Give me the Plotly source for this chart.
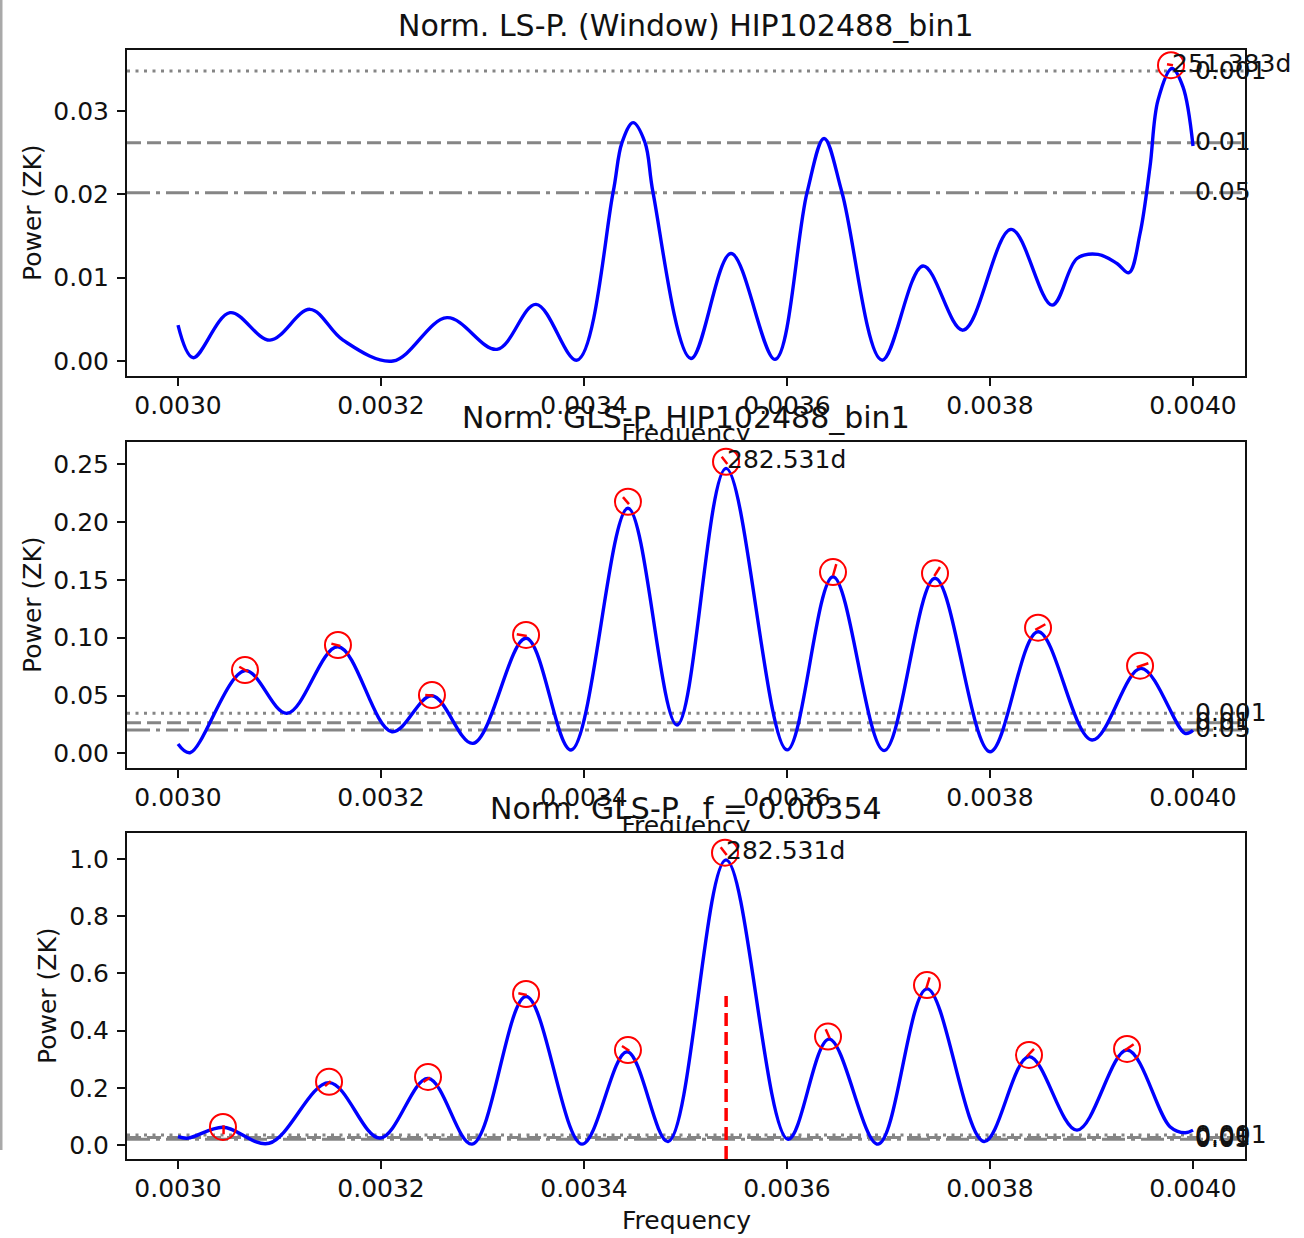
import plotly.graph_objects as go

# ---------------- figure geometry ----------------
W, H = 1304, 1238
ML, MR, MT, MB = 127, 59, 50, 79
PW, PH = W - ML - MR, H - MT - MB


def py(p):
    return (H - MB - p) / PH


def pxp(p):
    return (p - ML) / PW


FONT = "DejaVu Sans"
FS_TICK = 25
FS_TITLE = 30

# ---------------- data ----------------
freq_ticks = [0.0030, 0.0032, 0.0034, 0.0036, 0.0038, 0.0040]
freq_tick_text = ["0.0030", "0.0032", "0.0034", "0.0036", "0.0038", "0.0040"]

# Panel 1: window periodogram
win_freq = [0.0030000, 0.0030148, 0.0030512, 0.0030906, 0.0031300, 0.0031626, 0.0032118,
            0.0032650, 0.0033143, 0.0033527, 0.0033931, 0.0034286, 0.0034374, 0.0034483,
            0.0034601, 0.0034680, 0.0035054, 0.0035448, 0.0035882, 0.0036197, 0.0036365,
            0.0036542, 0.0036936, 0.0037340, 0.0037734, 0.0038207, 0.0038611, 0.0038857,
            0.0039064, 0.0039251, 0.0039369, 0.0039478, 0.0039576, 0.0039655, 0.0039793,
            0.0039901, 0.0040000]
win_power = [0.0043, 0.0004, 0.0058, 0.0025, 0.0062, 0.0025, 0.0000,
             0.0052, 0.0014, 0.0068, 0.0001, 0.0202, 0.0262, 0.0286,
             0.0262, 0.0202, 0.0003, 0.0129, 0.0002, 0.0202, 0.0267,
             0.0202, 0.0001, 0.0114, 0.0037, 0.0158, 0.0067, 0.0123,
             0.0128, 0.0117, 0.0106, 0.0153, 0.0233, 0.0313, 0.0351,
             0.0329, 0.0258]
win_peak_freq = [0.0039783]
win_peak_power = [0.0355]
win_peak_label = "251.383d"
win_levels = [0.0348, 0.0262, 0.0202]

# Panel 2: GLS periodogram
gls_freq = [0.0030000, 0.0030118, 0.0030660, 0.0031074, 0.0031576, 0.0032108, 0.0032502,
            0.0032906, 0.0033429, 0.0033872, 0.0034433, 0.0034916, 0.0035399, 0.0036000,
            0.0036453, 0.0036956, 0.0037458, 0.0038000, 0.0038473, 0.0039005, 0.0039488,
            0.0039921, 0.0040000]
gls_power = [0.008, 0.0005, 0.0715, 0.0346, 0.0922, 0.0187, 0.0498,
             0.0086, 0.0995, 0.0029, 0.2120, 0.0245, 0.2465, 0.0030,
             0.1528, 0.0023, 0.1514, 0.0014, 0.1052, 0.0115, 0.0735,
             0.0173, 0.0200]
gls_peak_freq = [0.0030660, 0.0031576, 0.0032502, 0.0033429, 0.0034433, 0.0035399,
                 0.0036453, 0.0037458, 0.0038473, 0.0039478]
gls_peak_power = [0.0720, 0.0937, 0.0504, 0.1024, 0.2176, 0.2522,
                  0.1568, 0.1557, 0.1087, 0.0758]
gls_peak_label = "282.531d"
gls_levels = [0.0346, 0.0265, 0.0202]

# Panel 3: GLS periodogram of the f = 0.00354 signal
sig_freq = [0.0030000, 0.0030099, 0.0030443, 0.0030897, 0.0031488, 0.0031990, 0.0032463,
            0.0032897, 0.0033429, 0.0033980, 0.0034424, 0.0034828, 0.0035399, 0.0036010,
            0.0036414, 0.0036897, 0.0037379, 0.0037941, 0.0038384, 0.0038857, 0.0039350,
            0.0039773, 0.0039921, 0.0040000]
sig_power = [0.029, 0.024, 0.062, 0.006, 0.218, 0.024, 0.233,
             0.003, 0.519, 0.003, 0.326, 0.012, 0.997, 0.020,
             0.370, 0.003, 0.546, 0.012, 0.309, 0.052, 0.332,
             0.064, 0.043, 0.052]
sig_peak_freq = [0.0030443, 0.0031488, 0.0032463, 0.0033429, 0.0034433, 0.0035389,
                 0.0036404, 0.0037379, 0.0038384, 0.0039350]
sig_peak_power = [0.063, 0.221, 0.238, 0.528, 0.332, 1.022,
                  0.379, 0.559, 0.315, 0.336]
sig_peak_label = "282.531d"
sig_levels = [0.0346, 0.0265, 0.0202]
sig_test_freq = 0.00354

level_labels = ["0.001", "0.01", "0.05"]
titles = ["Norm. LS-P. (Window) HIP102488_bin1",
          "Norm. GLS-P. HIP102488_bin1",
          "Norm. GLS-P., f = 0.00354"]

# short red marks inside the peak circles (pixel offsets: dx0, dy0, dx1, dy1; screen y down)
win_marks = [(-4, -1, 2, 0)]
gls_marks = [(-5.7, -3.3, 3.3, 1.7), (-6.6, -1.4, 2.4, 1.0), (-6.7, 0, 1.6, 0.7),
             (-9.3, -0.7, 0.7, 1.0), (-5, -4.7, 1, 2.3), (-4.3, -5, 1.3, 2.3),
             (0, 3.7, 3.3, -8), (-0.7, 2.7, 5, -6.3), (-2.7, 2.3, 7.3, -3.4),
             (-3.3, 1.6, 8.3, -2.4)]
sig_marks = [(0.6, -1.7, 0.6, 7.3), (-4, 4.3, 1.7, -0.7), (-4.6, 5, 2, 0.6),
             (-7.7, -0.7, 0.7, 1), (-6, -4, 1.3, 0.7), (-4.3, -5.4, 1.7, 2.3),
             (-2.3, -7.4, 1.7, 1.6), (-0.7, 3.3, 2.6, -7.7), (-2.3, 1.7, 5, -6),
             (-2.4, 1.7, 6.6, -4.7)]

# ---------------- layout helpers ----------------
panel_px = [(50, 376), (442, 768), (833, 1159)]  # (top, bottom) in screen px
y_ranges = [[-0.0018, 0.03732], [-0.0127, 0.2693], [-0.049, 1.0909]]
y_ticks = [[0, 0.01, 0.02, 0.03], [0, 0.05, 0.10, 0.15, 0.20, 0.25], [0, 0.2, 0.4, 0.6, 0.8, 1.0]]
y_fmt = [".2f", ".2f", ".1f"]
x_range = [0.00294975, 0.0040512]
ylabel_x = [32, 32, 47]

fig = go.Figure()

panels = [
    (win_freq, win_power, win_peak_freq, win_peak_power, win_peak_label, win_levels, win_marks),
    (gls_freq, gls_power, gls_peak_freq, gls_peak_power, gls_peak_label, gls_levels, gls_marks),
    (sig_freq, sig_power, sig_peak_freq, sig_peak_power, sig_peak_label, sig_levels, sig_marks),
]

shapes = []
annotations = []
level_dash = ["3px,5.5px", "14px,6px", "23px,6px,4px,6px"]

for i, (fx, pw, pkf, pkp, pklab, levels, marks) in enumerate(panels):
    n = i + 1
    xa = "x" if n == 1 else f"x{n}"
    ya = "y" if n == 1 else f"y{n}"
    fig.add_trace(go.Scatter(x=fx, y=pw, mode="lines", xaxis=xa, yaxis=ya,
                             line=dict(color="#0000ff", width=3.4, shape="spline", smoothing=1.0),
                             showlegend=False, hoverinfo="skip"))
    fig.add_trace(go.Scatter(x=pkf, y=pkp, mode="markers", xaxis=xa, yaxis=ya,
                             marker=dict(symbol="circle-open", size=26, color="#ff0000",
                                         line=dict(width=2, color="#ff0000")),
                             showlegend=False, hoverinfo="skip", cliponaxis=False))
    # significance lines
    for lv, dash in zip(levels, level_dash):
        shapes.append(dict(type="line", xref=f"{xa} domain", yref=ya, x0=0, x1=1, y0=lv, y1=lv,
                           line=dict(color="#858585", width=3, dash=dash), layer="below"))
    for lv, lab in zip(levels, level_labels):
        annotations.append(dict(x=0.0040, y=lv, xref=xa, yref=ya, text=lab, showarrow=False,
                                xanchor="left", yanchor="middle", yshift=1,
                                font=dict(family=FONT, size=FS_TICK, color="#111")))
    # red marks inside circles
    for (f, p, m) in zip(pkf, pkp, marks):
        shapes.append(dict(type="line", xref=xa, yref=ya, xsizemode="pixel", ysizemode="pixel",
                           xanchor=f, yanchor=p, x0=m[0], x1=m[2], y0=-m[1], y1=-m[3],
                           line=dict(color="#ff0000", width=2.5), layer="above"))
    # label of the highest peak
    k = max(range(len(pkp)), key=lambda j: pkp[j])
    annotations.append(dict(x=pkf[k], y=pkp[k], xref=xa, yref=ya, text=pklab, showarrow=False,
                            xanchor="left", yanchor="middle", yshift=2, xshift=-1,
                            font=dict(family=FONT, size=FS_TICK, color="#111")))
    top, bot = panel_px[i]
    # title
    annotations.append(dict(x=pxp(686), y=py(top - 25), xref="paper", yref="paper",
                            text=titles[i], showarrow=False, xanchor="center", yanchor="middle",
                            font=dict(family=FONT, size=FS_TITLE, color="#111")))
    # y label
    annotations.append(dict(x=pxp(ylabel_x[i]), y=py((top + bot) / 2), xref="paper", yref="paper",
                            text="Power (ZK)", textangle=-90, showarrow=False,
                            xanchor="center", yanchor="middle",
                            font=dict(family=FONT, size=FS_TICK, color="#111")))

    axis_common = dict(showgrid=False, zeroline=False, showline=True, mirror=True,
                       linecolor="#111", linewidth=2, ticks="outside", ticklen=8, tickwidth=2,
                       tickcolor="#111", tickfont=dict(family=FONT, size=FS_TICK, color="#111"))
    xkey = "xaxis" if n == 1 else f"xaxis{n}"
    ykey = "yaxis" if n == 1 else f"yaxis{n}"
    fig.update_layout({
        xkey: dict(domain=[0, 1], range=x_range, anchor=ya, tickvals=freq_ticks,
                   ticktext=freq_tick_text, ticklabelstandoff=-2, **axis_common),
        ykey: dict(domain=[py(bot), py(top)], range=y_ranges[i], anchor=xa,
                   tickvals=y_ticks[i], tickformat=y_fmt[i], ticklabelstandoff=3, **axis_common),
    })

# red dashed vertical line at the tested frequency (lower half of the last panel)
shapes.append(dict(type="line", xref="x3", yref="y3 domain", x0=sig_test_freq, x1=sig_test_freq,
                   y0=0, y1=0.5, line=dict(color="#ff0000", width=3.5, dash="13px,6px"), layer="above"))

# "Frequency" labels of the upper two panels, partly hidden under the next panel (clipped text)
gap_px = [(376, 442, 435.3), (768, 833, 827.3)]
for j, (gtop, gbot, center) in enumerate(gap_px):
    n = 4 + j
    fig.add_trace(go.Scatter(x=[0.5], y=[(gbot - center) / (gbot - gtop)], mode="text",
                             text=["Frequency"], textposition="middle center",
                             textfont=dict(family=FONT, size=FS_TICK, color="#111"),
                             xaxis=f"x{n}", yaxis=f"y{n}", cliponaxis=True,
                             showlegend=False, hoverinfo="skip"))
    fig.update_layout({
        f"xaxis{n}": dict(domain=[0, 1], range=[0, 1], anchor=f"y{n}", visible=False),
        f"yaxis{n}": dict(domain=[py(gbot), py(gtop)], range=[0, 1], anchor=f"x{n}", visible=False),
    })

annotations.append(dict(x=pxp(686), y=py(1220), xref="paper", yref="paper", text="Frequency",
                        showarrow=False, xanchor="center", yanchor="middle",
                        font=dict(family=FONT, size=FS_TICK, color="#111")))

# thin grey border at the left edge of the screenshot
shapes.append(dict(type="line", xref="paper", yref="paper", x0=pxp(1), x1=pxp(1),
                   y0=py(0), y1=py(1150), line=dict(color="#a9a9a9", width=3), layer="above"))

fig.update_layout(width=W, height=H, margin=dict(l=ML, r=MR, t=MT, b=MB),
                  paper_bgcolor="white", plot_bgcolor="white",
                  shapes=shapes, annotations=annotations, showlegend=False,
                  font=dict(family=FONT, size=FS_TICK, color="#111"))

fig.write_html("out.html")
